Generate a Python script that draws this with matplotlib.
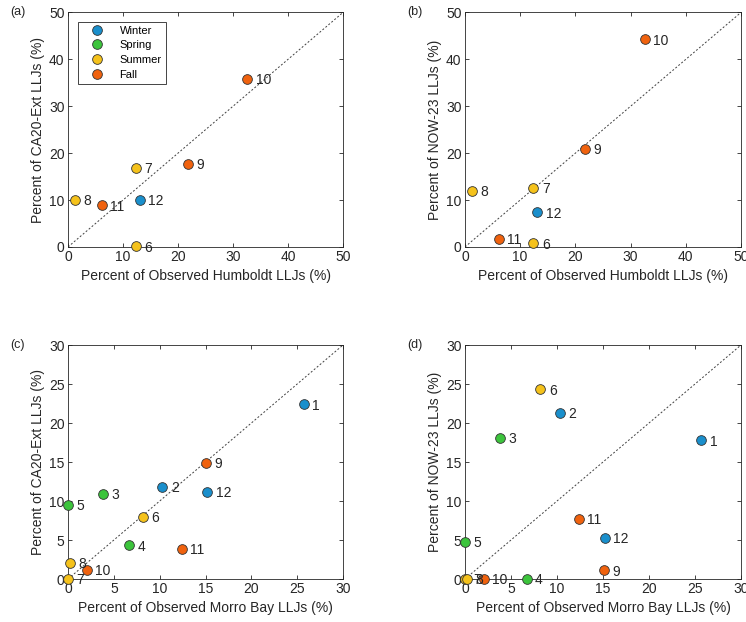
import numpy as np
import matplotlib.pyplot as plt

# 季節ごとの色
season_names = ["Winter", "Spring", "Summer", "Fall"]
season_colors = ["#1a8fcc", "#3cc43c", "#f5c21b", "#f0620e"]


def season_of(month):
    if month in (12, 1, 2):
        return 0
    if month in (3, 4, 5):
        return 1
    if month in (6, 7, 8):
        return 2
    return 3


# (a), (b) Humboldt
hum_months = [6, 7, 8, 9, 10, 11, 12]
hum_obs = [12.4, 12.4, 1.3, 21.8, 32.6, 6.1, 13.1]
hum_ca20 = [0.1, 16.9, 10.0, 17.7, 35.9, 8.9, 10.1]
hum_now23 = [0.8, 12.6, 12.0, 20.9, 44.3, 1.7, 7.4]

# (c), (d) Morro Bay
mb_months = [1, 2, 3, 4, 5, 6, 7, 8, 9, 10, 11, 12]
mb_obs = [25.7, 10.3, 3.85, 6.7, 0.0, 8.2, 0.04, 0.25, 15.1, 2.07, 12.4, 15.2]
mb_ca20 = [22.4, 11.8, 10.95, 4.3, 9.5, 8.0, 0.0, 2.1, 14.9, 1.2, 3.9, 11.2]
mb_now23 = [17.8, 21.3, 18.1, 0.0, 4.8, 24.3, 0.0, 0.0, 1.1, 0.0, 7.7, 5.3]


def draw(ax, months, x, y, lim, ticks, xlabel, ylabel, tag, legend=False):
    ax.plot([0, lim], [0, lim], ls=(0, (2, 2)), color="#404040", lw=0.7, zorder=1)
    for m, xv, yv in zip(months, x, y):
        c = season_colors[season_of(m)]
        ax.plot(xv, yv, "o", ms=7, mfc=c, mec="#333333", mew=0.6, zorder=3,
                clip_on=False)
        ax.annotate(str(m), (xv, yv), xytext=(6, -1), textcoords="offset points",
                    ha="left", va="center", fontsize=10, color="#262626",
                    zorder=4, annotation_clip=False)
    ax.set_xlim(0, lim)
    ax.set_ylim(0, lim)
    ax.set_xticks(ticks)
    ax.set_yticks(ticks)
    ax.tick_params(direction="in", top=True, right=True, length=3,
                   colors="#262626", labelsize=10, width=0.6, pad=2.5)
    for s in ax.spines.values():
        s.set_color("#262626")
        s.set_linewidth(0.6)
    ax.set_xlabel(xlabel, fontsize=10, color="#262626", labelpad=3)
    ax.set_ylabel(ylabel, fontsize=10, color="#262626", labelpad=3)
    ax.text(-0.21, 1.0, tag, transform=ax.transAxes, fontsize=9,
            ha="left", va="center", color="#262626")
    if legend:
        handles = [plt.Line2D([], [], ls="", marker="o", ms=7, mfc=c,
                              mec="#333333", mew=0.6) for c in season_colors]
        leg = ax.legend(handles, season_names, loc="upper left",
                        bbox_to_anchor=(0.036, 0.96), borderaxespad=0,
                        fontsize=8, fancybox=False, edgecolor="#262626",
                        framealpha=1, handletextpad=0.6, borderpad=0.35,
                        labelspacing=0.42, handlelength=2.8)
        leg.get_frame().set_linewidth(0.6)


plt.rcParams["font.family"] = ["Liberation Sans", "DejaVu Sans"]

fig = plt.figure(figsize=(7.46, 6.22), dpi=100)
ax_a = fig.add_axes([0.0912, 0.603, 0.3686, 0.377])
ax_b = fig.add_axes([0.6233, 0.603, 0.3700, 0.377])
ax_c = fig.add_axes([0.0912, 0.0691, 0.3686, 0.3762])
ax_d = fig.add_axes([0.6233, 0.0691, 0.3700, 0.3762])

draw(ax_a, hum_months, hum_obs, hum_ca20, 50, range(0, 51, 10),
     "Percent of Observed Humboldt LLJs (%)", "Percent of CA20-Ext LLJs (%)",
     "(a)", legend=True)
draw(ax_b, hum_months, hum_obs, hum_now23, 50, range(0, 51, 10),
     "Percent of Observed Humboldt LLJs (%)", "Percent of NOW-23 LLJs (%)", "(b)")
draw(ax_c, mb_months, mb_obs, mb_ca20, 30, range(0, 31, 5),
     "Percent of Observed Morro Bay LLJs (%)", "Percent of CA20-Ext LLJs (%)", "(c)")
draw(ax_d, mb_months, mb_obs, mb_now23, 30, range(0, 31, 5),
     "Percent of Observed Morro Bay LLJs (%)", "Percent of NOW-23 LLJs (%)", "(d)")

plt.savefig("out.png", dpi=100)
plt.close()
